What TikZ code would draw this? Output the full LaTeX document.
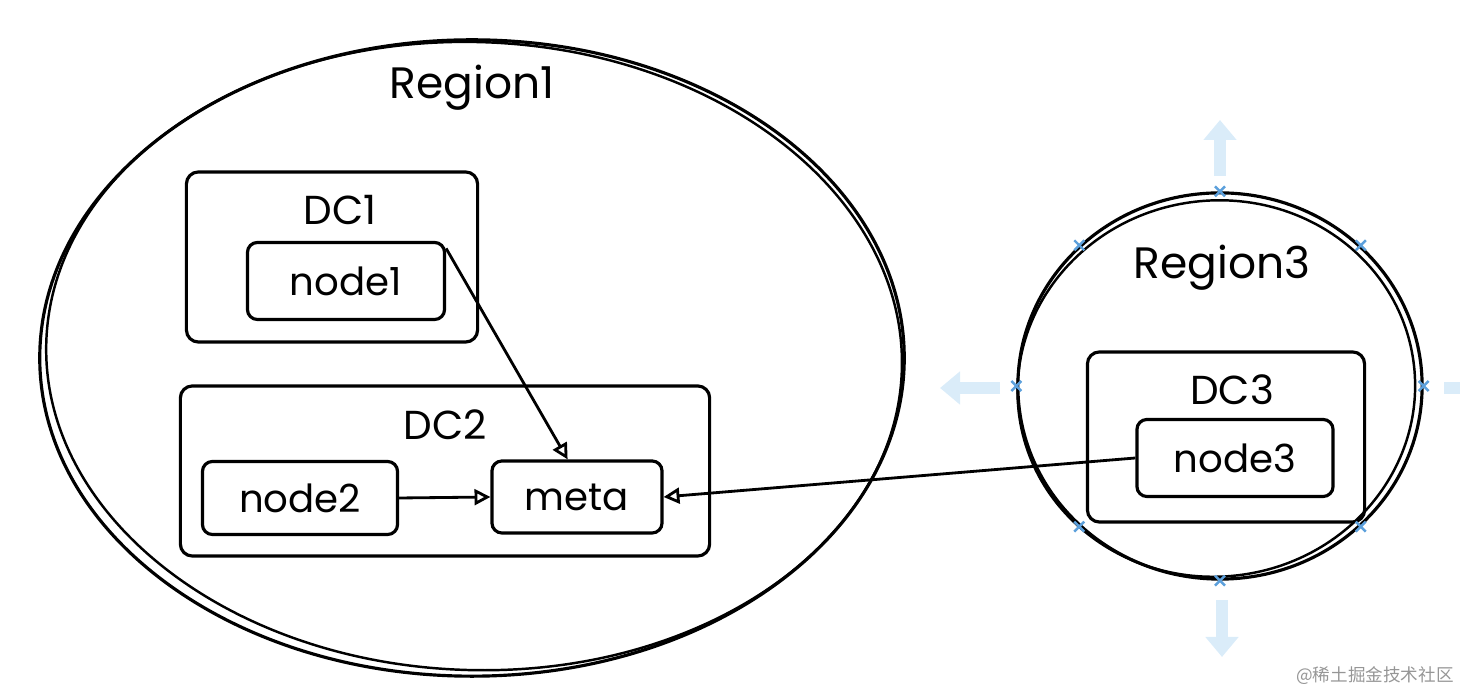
\documentclass[tikz,border=0pt]{standalone}
\usepackage{fontspec}
\setmainfont{Poppins}
\newfontfamily\cjk{Noto Sans CJK SC}
\usetikzlibrary{arrows.meta,shapes.geometric}

\definecolor{handleblue}{RGB}{218,236,249}
\definecolor{markblue}{RGB}{92,160,220}
\definecolor{marktext}{RGB}{150,150,150}

\tikzset{
  region/.style={draw, ellipse, line width=0.9pt, inner sep=0pt},
  dcbox/.style={draw, rectangle, rounded corners=0.12cm, line width=0.9pt},
  hostbox/.style={draw, rectangle, rounded corners=0.1cm, line width=0.9pt,
    font=\fontsize{11}{13}\selectfont},
  boxlabel/.style={font=\fontsize{11.5}{13}\selectfont},
  regionlabel/.style={font=\fontsize{12.5}{14}\selectfont},
  link/.style={line width=0.8pt, -{Triangle[open, length=4.5pt, width=4.5pt]}},
  handle/.style={handleblue, line width=3.4pt, -{Triangle[length=0.2cm, width=0.32cm]}},
  xmark/.style={markblue, line width=0.7pt}
}

\begin{document}
\begin{tikzpicture}[x=0.01cm, y=-0.01cm]

  % Fix the size of the page
  \useasboundingbox (0,0) rectangle (1460,692);

  % Draw the two regions
  \node[region, minimum width=8.64cm, minimum height=6.36cm] (region1) at (472,358) {};
  \draw[line width=0.7pt, rotate around={-2:(472,358)}] (474,356) ellipse (428 and 314);
  \node[region, minimum width=4.04cm, minimum height=3.86cm] (region3) at (1220,386) {};
  \draw[line width=0.7pt, rotate around={8:(1220,386)}] (1216,388) ellipse (199 and 188);

  % Labels of the regions
  \node[regionlabel] (region1label) at (472,88) {Region1};
  \node[regionlabel] (region3label) at (1222,268) {Region3};

  % Draw the data centres
  \node[dcbox, minimum width=2.91cm, minimum height=1.70cm] (dc1) at (332,257) {};
  \node[dcbox, minimum width=5.29cm, minimum height=1.70cm] (dc2) at (445,471) {};
  \node[dcbox, minimum width=2.77cm, minimum height=1.70cm] (dc3) at (1226,437) {};

  % Labels of the data centres
  \node[boxlabel] (dc1label) at (340,210) {DC1};
  \node[boxlabel] (dc2label) at (445,425) {DC2};
  \node[boxlabel] (dc3label) at (1232,390) {DC3};

  % The nodes inside the data centres
  \node[hostbox, minimum width=1.97cm, minimum height=0.77cm] (node1) at (346,281) {node1};
  \node[hostbox, minimum width=1.95cm, minimum height=0.73cm] (node2) at (300,498) {node2};
  \node[hostbox, minimum width=1.70cm, minimum height=0.72cm] (meta) at (577,497) {meta};
  \node[hostbox, minimum width=1.96cm, minimum height=0.77cm] (node3) at (1235,458) {node3};

  % Connections to meta
  \draw[link] (node1.18) -- (meta.104);
  \draw[link] (node2.east) -- (meta.west);
  \draw[link] (node3.west) -- (meta.east);

  % Selection handles round Region3
  \foreach \a in {0,45,...,315}
    \draw[xmark] (region3.\a) +(-5,-5) -- +(5,5) +(-5,5) -- +(5,-5);
  \draw[handle] (1220,176) -- (1220,120);
  \draw[handle] (1000,388) -- (940,388);
  \draw[handle] (1444,388) -- (1500,388);
  \draw[handle] (1222,600) -- (1222,657);

  % Watermark
  \node[marktext, font=\cjk\fontsize{5}{6}\selectfont] (mark) at (1375,676) {@稀土掘金技术社区};

\end{tikzpicture}
\end{document}
